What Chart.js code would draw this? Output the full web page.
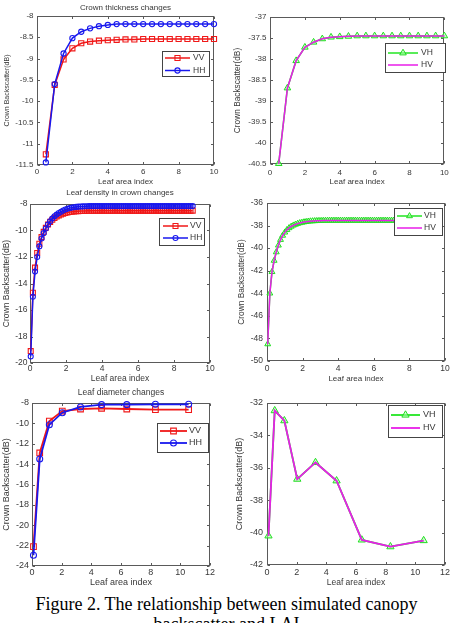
<!DOCTYPE html>
<html><head><meta charset="utf-8">
<script src="https://cdn.jsdelivr.net/npm/chart.js@4.4.1/dist/chart.umd.min.js"></script>
<style>
html,body{margin:0;padding:0;background:#fff;width:453px;height:623px;overflow:hidden;}
canvas{position:absolute;}
#cap{position:absolute;left:0;width:453px;top:594px;text-align:center;font-family:"Liberation Serif","Times New Roman",serif;font-size:18px;line-height:20px;color:#000;white-space:nowrap;}
</style></head><body>
<canvas id="c1"></canvas><canvas id="c2"></canvas><canvas id="c3"></canvas>
<canvas id="c4"></canvas><canvas id="c5"></canvas><canvas id="c6"></canvas>
<div id="cap">Figure 2. The relationship between simulated canopy<br>backscatter and LAI</div>
<script>
// ---------- data ----------
const panelTitles = ['Crown thickness changes', 'Leaf density in crown changes', 'Leaf diameter changes'];
const xAxisTitle = 'Leaf area index';
const yAxisTitle = 'Crown Backscatter(dB)';
const seriesNames = ['VV', 'HH', 'VH', 'HV'];

const laiThickness = [0.5,1,1.5,2,2.5,3,3.5,4,4.5,5,5.5,6,6.5,7,7.5,8,8.5,9,9.5,10];
const vvThickness = [-11.25,-9.62,-9.02,-8.76,-8.64,-8.6,-8.58,-8.57,-8.56,-8.55,-8.55,-8.54,-8.54,-8.54,-8.54,-8.54,-8.54,-8.54,-8.54,-8.54];
const hhThickness = [-11.44,-9.6,-8.88,-8.52,-8.37,-8.29,-8.24,-8.21,-8.19,-8.19,-8.19,-8.19,-8.19,-8.19,-8.19,-8.19,-8.19,-8.19,-8.19,-8.19];
const vhThickness = [-40.49,-38.69,-38.04,-37.72,-37.6,-37.52,-37.48,-37.47,-37.46,-37.45,-37.45,-37.45,-37.45,-37.45,-37.45,-37.45,-37.45,-37.45,-37.45,-37.45];
const hvThickness = [-40.49,-38.69,-38.04,-37.72,-37.6,-37.52,-37.48,-37.47,-37.46,-37.45,-37.45,-37.45,-37.45,-37.45,-37.45,-37.45,-37.45,-37.45,-37.45,-37.45];

const laiDensity = [0.04,0.16,0.28,0.40,0.52,0.64,0.76,0.88,1.00,1.12,
  1.24,1.36,1.48,1.60,1.72,1.84,1.96,2.08,2.20,2.32,
  2.44,2.56,2.68,2.80,2.92,3.04,3.16,3.28,3.40,3.52,
  3.64,3.76,3.88,4.00,4.12,4.24,4.36,4.48,4.60,4.72,
  4.84,4.96,5.08,5.20,5.32,5.44,5.56,5.68,5.80,5.92,
  6.04,6.16,6.28,6.40,6.52,6.64,6.76,6.88,7.00,7.12,
  7.24,7.36,7.48,7.60,7.72,7.84,7.96,8.08,8.20,8.32,
  8.44,8.56,8.68,8.80,8.92,9.04];
const vvDensity = [-19.1,-14.7,-12.8,-11.7,-11.0,-10.5,-10.1,-9.8,-9.55,-9.35,
  -9.19,-9.06,-8.95,-8.86,-8.79,-8.73,-8.68,-8.64,-8.61,-8.59,
  -8.56,-8.55,-8.54,-8.53,-8.52,-8.52,-8.51,-8.51,-8.51,-8.5,
  -8.5,-8.5,-8.5,-8.5,-8.5,-8.5,-8.5,-8.5,-8.5,-8.5,
  -8.5,-8.5,-8.5,-8.5,-8.5,-8.5,-8.5,-8.5,-8.5,-8.5,
  -8.5,-8.5,-8.5,-8.5,-8.5,-8.5,-8.5,-8.5,-8.5,-8.5,
  -8.5,-8.5,-8.5,-8.5,-8.5,-8.5,-8.5,-8.5,-8.5,-8.5,
  -8.5,-8.5,-8.5,-8.5,-8.5,-8.5];
const hhDensity = [-19.5,-15.0,-13.1,-12.0,-11.2,-10.6,-10.2,-9.85,-9.55,-9.3,
  -9.1,-8.93,-8.8,-8.68,-8.58,-8.49,-8.42,-8.36,-8.31,-8.27,
  -8.24,-8.22,-8.2,-8.19,-8.18,-8.17,-8.17,-8.16,-8.16,-8.16,
  -8.16,-8.16,-8.16,-8.16,-8.16,-8.16,-8.16,-8.16,-8.16,-8.16,
  -8.16,-8.16,-8.16,-8.16,-8.16,-8.16,-8.16,-8.16,-8.16,-8.16,
  -8.16,-8.16,-8.16,-8.16,-8.16,-8.16,-8.16,-8.16,-8.16,-8.16,
  -8.16,-8.16,-8.16,-8.16,-8.16,-8.16,-8.16,-8.16,-8.16,-8.16,
  -8.16,-8.16,-8.16,-8.16,-8.16,-8.16];
const vhDensity = [-48.5,-44.0,-42.1,-41.1,-40.35,-39.75,-39.25,-38.88,-38.6,-38.38,
  -38.21,-38.08,-37.98,-37.9,-37.83,-37.77,-37.73,-37.69,-37.66,-37.63,
  -37.61,-37.6,-37.59,-37.58,-37.57,-37.57,-37.56,-37.56,-37.55,-37.55,
  -37.55,-37.55,-37.55,-37.55,-37.55,-37.55,-37.55,-37.55,-37.55,-37.55,
  -37.55,-37.55,-37.55,-37.55,-37.55,-37.55,-37.55,-37.55,-37.55,-37.55,
  -37.55,-37.55,-37.55,-37.55,-37.55,-37.55,-37.55,-37.55,-37.55,-37.55,
  -37.55,-37.55,-37.55,-37.55,-37.55,-37.55,-37.55,-37.55,-37.55,-37.55,
  -37.55,-37.55,-37.55,-37.55,-37.55,-37.55];
const hvDensity = [-48.5,-44.0,-42.1,-41.1,-40.35,-39.75,-39.25,-38.88,-38.6,-38.38,
  -38.21,-38.08,-37.98,-37.9,-37.83,-37.77,-37.73,-37.69,-37.66,-37.63,
  -37.61,-37.6,-37.59,-37.58,-37.57,-37.57,-37.56,-37.56,-37.55,-37.55,
  -37.55,-37.55,-37.55,-37.55,-37.55,-37.55,-37.55,-37.55,-37.55,-37.55,
  -37.55,-37.55,-37.55,-37.55,-37.55,-37.55,-37.55,-37.55,-37.55,-37.55,
  -37.55,-37.55,-37.55,-37.55,-37.55,-37.55,-37.55,-37.55,-37.55,-37.55,
  -37.55,-37.55,-37.55,-37.55,-37.55,-37.55,-37.55,-37.55,-37.55,-37.55,
  -37.55,-37.55,-37.55,-37.55,-37.55,-37.55];

const laiDiameter = [0.1,0.52,1.17,2.04,3.27,4.69,6.39,8.32,10.56];
const vvDiameter = [-22.1,-12.9,-9.77,-8.79,-8.59,-8.52,-8.59,-8.65,-8.65];
const hhDiameter = [-22.95,-13.5,-10.13,-8.95,-8.39,-8.16,-8.16,-8.13,-8.13];
const vhDiameter = [-40.2,-32.47,-33.09,-36.7,-35.67,-36.8,-40.45,-40.87,-40.49];
const hvDiameter = [-40.2,-32.47,-33.09,-36.7,-35.67,-36.8,-40.45,-40.87,-40.49];

const xTicks10 = [0,2,4,6,8,10];
const xTicks12 = [0,2,4,6,8,10,12];
const yTicksThickCo = [-11.5,-11,-10.5,-10,-9.5,-9,-8.5,-8];
const yTicksThickCross = [-40.5,-40,-39.5,-39,-38.5,-38,-37.5,-37];
const yTicksDensCo = [-20,-18,-16,-14,-12,-10,-8];
const yTicksDensCross = [-50,-48,-46,-44,-42,-40,-38,-36];
const yTicksDiamCo = [-24,-22,-20,-18,-16,-14,-12,-10,-8];
const yTicksDiamCross = [-42,-40,-38,-36,-34,-32];

// ---------- rendering ----------
const FONT = '"Liberation Sans", Arial, Helvetica, sans-serif';
const TXT = '#383838';
function fmt(v){ return String(Math.round(v*100)/100); }
function pts(xs, ys){ return xs.map((x,i)=>({x:x, y:ys[i]})); }

function drawMarker(ctx, style, x, y, r){
  ctx.beginPath();
  if (style === 'rect'){ const s = r*Math.SQRT1_2; ctx.rect(x-s, y-s, 2*s, 2*s); }
  else if (style === 'triangle'){
    let a = 0;
    ctx.moveTo(x+Math.sin(a)*r, y-Math.cos(a)*r); a += 2*Math.PI/3;
    ctx.lineTo(x+Math.sin(a)*r, y-Math.cos(a)*r); a += 2*Math.PI/3;
    ctx.lineTo(x+Math.sin(a)*r, y-Math.cos(a)*r); ctx.closePath();
  } else { ctx.arc(x, y, r, 0, 2*Math.PI); }
  ctx.fill(); ctx.stroke();
}

const framePlugin = {
  id: 'frame',
  beforeDatasetsDraw(chart){
    const {ctx, chartArea:a, scales:{x, y}} = chart;
    ctx.save();
    ctx.strokeStyle = '#5a5a5a'; ctx.lineWidth = 1;
    const L = Math.round(a.left)+0.5, T = Math.round(a.top)+0.5, R = Math.round(a.right)-0.5, B = Math.round(a.bottom)-0.5;
    ctx.strokeRect(L, T, R-L, B-T);
    ctx.beginPath();
    const tl = 2.5;
    x.ticks.forEach(t => { const p = Math.round(x.getPixelForValue(t.value))+0.5; ctx.moveTo(p, B); ctx.lineTo(p, B-tl); ctx.moveTo(p, T); ctx.lineTo(p, T+tl); });
    y.ticks.forEach(t => { const p = Math.round(y.getPixelForValue(t.value))+0.5; ctx.moveTo(L, p); ctx.lineTo(L+tl, p); ctx.moveTo(R, p); ctx.lineTo(R-tl, p); });
    ctx.stroke();
    ctx.restore();
  },
  afterDraw(chart, args, o){
    if (!o || !o.box) return;
    const ctx = chart.ctx;
    const ox = o.ox, oy = o.oy;
    ctx.save();
    const bx = Math.round(o.box[0]-ox)+0.5, by = Math.round(o.box[1]-oy)+0.5;
    ctx.fillStyle = '#fff'; ctx.strokeStyle = '#444'; ctx.lineWidth = 1;
    ctx.fillRect(bx, by, o.box[2], o.box[3]);
    ctx.strokeRect(bx, by, o.box[2], o.box[3]);
    o.items.forEach((di, k) => {
      const ds = chart.data.datasets[di];
      const yy = o.rows[k]-oy;
      ctx.strokeStyle = ds.borderColor; ctx.lineWidth = ds.borderWidth;
      ctx.beginPath(); ctx.moveTo(o.line[0]-ox, yy); ctx.lineTo(o.line[1]-ox, yy); ctx.stroke();
      if (ds.pointRadius > 0){
        ctx.fillStyle = ds.pointBackgroundColor; ctx.strokeStyle = ds.pointBorderColor; ctx.lineWidth = ds.pointBorderWidth;
        drawMarker(ctx, ds.pointStyle, (o.line[0]+o.line[1])/2-ox, yy, ds.pointRadius);
      }
      ctx.fillStyle = TXT; ctx.font = o.size + 'px ' + FONT; ctx.textBaseline = 'middle'; ctx.textAlign = 'left';
      ctx.fillText(ds.label, o.textX-ox, yy);
    });
    ctx.restore();
  }
};

function coSets(xs, vv, hh, rSq, rCi, lw){
  return [
    {label: seriesNames[0], data: pts(xs, vv), borderColor:'#f01818', borderWidth:lw, showLine:true, tension:0,
     pointStyle:'rect', pointRadius:rSq, pointBorderColor:'#f01818', pointBackgroundColor:'rgba(255,255,255,0)', pointBorderWidth:1.1, order:1, clip:false},
    {label: seriesNames[1], data: pts(xs, hh), borderColor:'#1818ee', borderWidth:lw, showLine:true, tension:0,
     pointStyle:'circle', pointRadius:rCi, pointBorderColor:'#1818ee', pointBackgroundColor:'rgba(255,255,255,0)', pointBorderWidth:1.1, order:0, clip:false}
  ];
}
function crossSets(xs, vh, hv, rTr, lw){
  return [
    {label: seriesNames[2], data: pts(xs, vh), borderColor:'#22e622', borderWidth:lw, showLine:true, tension:0,
     pointStyle:'triangle', pointRadius:rTr, pointBorderColor:'#22dd22', pointBackgroundColor:'rgba(170,255,170,0.55)', pointBorderWidth:1, order:1, clip:false},
    {label: seriesNames[3], data: pts(xs, hv), borderColor:'#e81ee8', borderWidth:lw, showLine:true, tension:0,
     pointStyle:'circle', pointRadius:0, pointBorderColor:'#e81ee8', pointBackgroundColor:'#e81ee8', pointBorderWidth:1, order:0, clip:false}
  ];
}

function panel(id, s){
  const cv = document.getElementById(id);
  cv.width = s.box.w; cv.height = s.box.h;
  cv.style.left = s.box.x + 'px'; cv.style.top = s.box.y + 'px';
  const lh = f => f*1.2;
  let titleOpt = {display:false};
  let padTop = s.plot.t - s.box.y;
  if (s.title){
    const pt = Math.max(0, s.titleY - s.box.y - lh(s.titleSize)/2);
    const pb = (s.plot.t - s.box.y) - pt - lh(s.titleSize);
    titleOpt = {display:true, text:s.title, fullSize:false, color:TXT, font:{family:FONT, size:s.titleSize, weight:'normal'}, padding:{top:pt, bottom:pb}};
    padTop = 0;
  }
  new Chart(cv, {
    type:'scatter',
    data:{datasets:s.datasets},
    plugins:[framePlugin],
    options:{
      responsive:false, animation:false, devicePixelRatio:1, events:[],
      layout:{padding:{left:0, top:padTop, right:s.box.x+s.box.w-s.plot.r, bottom:0}},
      plugins:{legend:{display:false}, tooltip:{enabled:false}, title:titleOpt, frame:Object.assign({ox:s.box.x, oy:s.box.y}, s.legend)},
      scales:{
        x:{type:'linear', min:s.xt[0], max:s.xt[s.xt.length-1],
           afterBuildTicks: sc => { sc.ticks = s.xt.map(v=>({value:v})); },
           afterFit: sc => { sc.height = s.box.y + s.box.h - s.plot.b; },
           grid:{display:false, drawTicks:false, tickLength:0}, border:{display:false},
           ticks:{autoSkip:false, maxRotation:0, color:TXT, font:{family:FONT, size:s.tick}, padding: s.xTickY - s.plot.b - lh(s.tick)/2, callback:v=>fmt(v)},
           title:{display:true, text:xAxisTitle, color:TXT, font:{family:FONT, size:s.xTitleSize}, padding:{top:0, bottom: s.box.y + s.box.h - s.xTitleY - lh(s.xTitleSize)/2}}},
        y:{type:'linear', min:s.yt[0], max:s.yt[s.yt.length-1],
           afterBuildTicks: sc => { sc.ticks = s.yt.map(v=>({value:v})); },
           afterFit: sc => { sc.width = s.plot.l - s.box.x; },
           grid:{display:false, drawTicks:false, tickLength:0}, border:{display:false},
           ticks:{autoSkip:false, color:TXT, font:{family:FONT, size:s.tick}, padding:s.yPad, callback:v=>fmt(v)},
           title:{display:true, text:yAxisTitle, color:TXT, font:{family:FONT, size:s.yTitleSize}, padding:{top: s.yTitleX - s.box.x - lh(s.yTitleSize)/2, bottom:0}}}
      }
    }
  });
}

panel('c1', {box:{x:0,y:0,w:226,h:188}, plot:{l:37,t:16,r:214,b:165}, title:panelTitles[0], titleY:8, titleSize:8,
  xt:xTicks10, yt:yTicksThickCo, tick:8, xTickY:172, xTitleY:182, xTitleSize:8, yTitleX:7, yTitleSize:7, yPad:3.5,
  datasets:coSets(laiThickness, vvThickness, hhThickness, 3.6, 2.6, 1.5),
  legend:{box:[162,51,47,25], rows:[58,70.5], line:[165,190], textX:193, size:8.5, items:[0,1]}});
panel('c2', {box:{x:226,y:0,w:227,h:188}, plot:{l:270,t:17,r:447,b:164},
  xt:xTicks10, yt:yTicksThickCross, tick:8, xTickY:173, xTitleY:182, xTitleSize:8, yTitleX:238, yTitleSize:8.3, yPad:3.5,
  datasets:crossSets(laiThickness, vhThickness, hvThickness, 3.8, 1.5),
  legend:{box:[385,43,60,29], rows:[53,65], line:[388,418], textX:421, size:8.5, items:[0,1]}});
panel('c3', {box:{x:0,y:188,w:226,h:200}, plot:{l:30,t:204,r:210,b:363}, title:panelTitles[1], titleY:193, titleSize:8,
  xt:xTicks10, yt:yTicksDensCo, tick:8.5, xTickY:369, xTitleY:379, xTitleSize:8.5, yTitleX:7, yTitleSize:8.5, yPad:2.5,
  datasets:coSets(laiDensity, vvDensity, hhDensity, 3.5, 2.5, 1.5),
  legend:{box:[159,218,45,27], rows:[226,238], line:[163,188], textX:190, size:8.5, items:[0,1]}});
panel('c4', {box:{x:226,y:188,w:227,h:200}, plot:{l:267,t:203,r:445,b:361},
  xt:xTicks10, yt:yTicksDensCross, tick:8.5, xTickY:369, xTitleY:379, xTitleSize:8, yTitleX:242, yTitleSize:8.3, yPad:4,
  datasets:crossSets(laiDensity, vhDensity, hvDensity, 3.4, 1.5),
  legend:{box:[394,208,48,27], rows:[216,228], line:[397,422], textX:424, size:8.5, items:[0,1]}});
panel('c5', {box:{x:0,y:388,w:226,h:204}, plot:{l:32,t:403,r:210,b:566}, title:panelTitles[2], titleY:393, titleSize:8.5,
  xt:xTicks12, yt:yTicksDiamCo, tick:9, xTickY:573, xTitleY:583, xTitleSize:9, yTitleX:7, yTitleSize:9, yPad:3,
  datasets:coSets(laiDiameter, vvDiameter, hhDiameter, 4, 3, 1.8),
  legend:{box:[157,423,51,29], rows:[431,443], line:[160,187], textX:189, size:9, items:[0,1]}});
panel('c6', {box:{x:226,y:388,w:227,h:204}, plot:{l:267,t:403,r:445,b:565},
  xt:xTicks12, yt:yTicksDiamCross, tick:9, xTickY:573, xTitleY:583, xTitleSize:8.5, yTitleX:240, yTitleSize:9, yPad:4,
  datasets:crossSets(laiDiameter, vhDiameter, hvDiameter, 4.2, 1.8),
  legend:{box:[388,405,54,32], rows:[415,428], line:[391,420], textX:423, size:9, items:[0,1]}});
</script>
</body></html>
